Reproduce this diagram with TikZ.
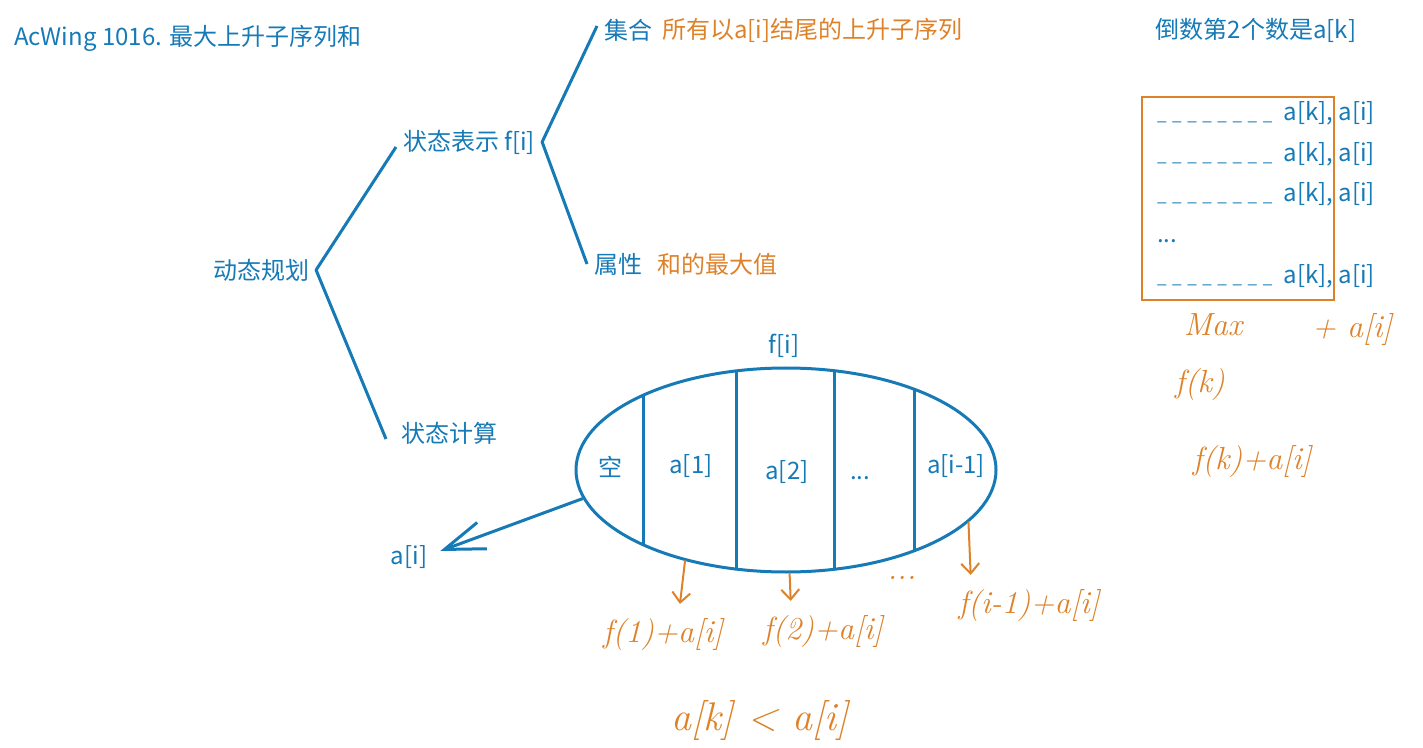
\documentclass[tikz,border=0pt]{standalone}
\usepackage{fontspec}
\newfontfamily\cjk{Noto Sans CJK SC}
\usetikzlibrary{shapes.geometric,arrows.meta}
\definecolor{inkblue}{RGB}{22,122,182}
\definecolor{inkorange}{RGB}{222,130,42}
\newcommand{\blanks}{{\fontsize{8.5}{10}\selectfont
  \_\kern2.8pt\_\kern2.8pt\_\kern2.8pt\_\kern2.8pt\_\kern2.8pt\_\kern2.8pt\_\kern2.8pt\_\kern5.6pt}}

\begin{document}
\begin{tikzpicture}
  [x=0.5pt,y=-0.5pt,every node/.style={text=inkblue,font=\cjk\fontsize{12}{14}\selectfont},
   note/.style={text=inkorange},
   hand/.style={text=inkorange,font=\rmfamily\itshape\fontsize{16}{18}\selectfont},
   ink/.style={draw=inkblue,line width=1.5pt,line join=round},
   pen/.style={draw=inkorange,line width=1pt,line cap=round,shorten >=4pt,
     -{Straight Barb[length=5pt,width=9pt]}}]
  \useasboundingbox (0,0) rectangle (1423,748);

  \node[anchor=west] (title) at (7,38) {AcWing 1016. 最大上升子序列和};
  \node (dp) at (261,270) {动态规划};
  \node[anchor=west] (rep) at (396,142) {状态表示 f[i]};
  \node[anchor=west] (calc) at (394,433) {状态计算};
  \node[anchor=west] (set) at (597,30) {集合};
  \node[anchor=west,note] (setv) at (655,30) {所有以a[i]结尾的上升子序列};
  \node[anchor=west] (attr) at (587,264) {属性};
  \node[anchor=west,note] (attrv) at (650,264) {和的最大值};
  \draw[ink] ([yshift=-2.5pt]rep.west) -- (dp.east) -- ([shift={(-4pt,-3pt)}]calc.west);
  \draw[ink] ([yshift=2pt]set.west) -- (rep.east) -- (attr.west);

  % the set f[i] split by the second last number
  \node[ellipse,ink,inner sep=0pt,minimum width=210pt,minimum height=102pt] (sub) at (786,470) {};
  \node (fi) at (784,346) {f[i]};
  \foreach \x/\h in {643/75,736/99,834/99,914/81}
    \draw[ink] (\x,470-\h) -- (\x,470+\h);
  \node (c0) at (610,467) {空};
  \node (c1) at (691,466) {a[1]};
  \node (c2) at (787,472) {a[2]};
  \node (c3) at (860,478) {...};
  \node (c4) at (956,466) {a[i-1]};
  \node (ai) at (409,557) {a[i]};
  \draw[ink,-{Straight Barb[length=20pt,width=14pt]}] (sub.188) -- ([shift={(3pt,3pt)}]ai.east);

  \node[hand] (h1) at (663,635) {f(1)+a[i]};
  \node[hand] (h2) at (823,632) {f(2)+a[i]};
  \node[hand] (h0) at (902,578) {...};
  \node[hand] (h3) at (1029,606) {f(i-1)+a[i]};
  \draw[pen] (sub.222) -- ([xshift=8pt]h1.north);
  \draw[pen] (sub.272) -- ([xshift=-16pt]h2.north);
  \draw[pen] (sub.344) -- ([xshift=-29pt]h3.north);
  \node[hand,font=\rmfamily\itshape\fontsize{20}{22}\selectfont] (cmp) at (760,720) {a[k] < a[i]};

  % right side
  \node (kt) at (1256,30) {倒数第2个数是a[k]};
  \draw[draw=inkorange,line width=1.2pt] (1142,97) rectangle (1334,300);
  \foreach \y/\n in {121/r1,162/r2,202/r3,284/r4}
    \node[anchor=base west] (\n) at (1150,\y) {\blanks a[k], a[i]};
  \node[anchor=base west] (rd) at (1150,243) {...};
  \node[hand] (mx) at (1213,325) {Max};
  \node[hand] (pl) at (1352,330) {+ a[i]};
  \node[hand] (fk) at (1200,385) {f(k)};
  \node[hand] (fka) at (1252,462) {f(k)+a[i]};

\end{tikzpicture}
\end{document}
